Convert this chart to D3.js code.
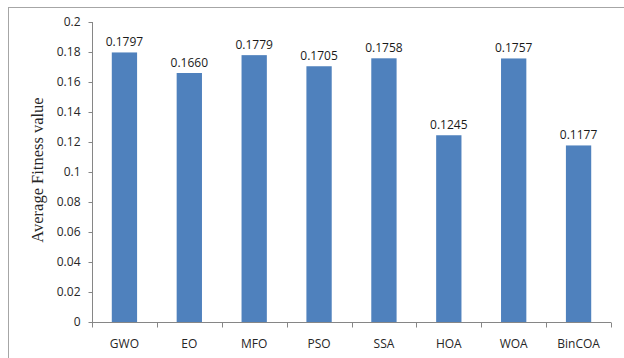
<!DOCTYPE html>
<html>
<head>
<meta charset="utf-8">
<script src="https://cdn.jsdelivr.net/npm/d3@7"></script>
<style>
  html, body { margin: 0; padding: 0; background: #fff; }
  svg { display: block; }
</style>
</head>
<body>
<svg id="chart" width="624" height="358"></svg>
<script>
// Algorithms compared and their average fitness values
const categories = ["GWO", "EO", "MFO", "PSO", "SSA", "HOA", "WOA", "BinCOA"];
const fitness = [0.1797, 0.1660, 0.1779, 0.1705, 0.1758, 0.1245, 0.1757, 0.1177];
const yTicks = [0, 0.02, 0.04, 0.06, 0.08, 0.1, 0.12, 0.14, 0.16, 0.18, 0.2];
const yTickLabels = ["0", "0.02", "0.04", "0.06", "0.08", "0.1", "0.12", "0.14", "0.16", "0.18", "0.2"];

const svg = d3.select("#chart");
const W = 624, H = 358;
const plot = { left: 92, right: 611, top: 22, bottom: 322 };

// Outer frame of the chart area
svg.append("rect")
  .attr("x", 8.5).attr("y", 7.5)
  .attr("width", W + 20).attr("height", H + 20)
  .attr("fill", "none").attr("stroke", "#a6a6a6").attr("stroke-width", 1);

const x = d3.scaleBand()
  .domain(categories)
  .range([plot.left, plot.right])
  .paddingInner(0.61)
  .paddingOuter(0.305);

const y = d3.scaleLinear().domain([0, 0.2]).range([plot.bottom, plot.top]);

// Y axis
const yAxis = svg.append("g")
  .attr("transform", `translate(${plot.left + 0.5},0)`)
  .call(d3.axisLeft(y).tickValues(yTicks).tickSize(4).tickPadding(8)
    .tickFormat((d, i) => yTickLabels[i]));
yAxis.select(".domain").attr("stroke", "#868686").attr("d", `M0,${plot.top}V${plot.bottom}`);
yAxis.selectAll(".tick line").attr("stroke", "#868686");
yAxis.selectAll(".tick text")
  .attr("font-family", "'Open Sans', 'Liberation Sans', sans-serif")
  .attr("font-size", 12).attr("fill", "#262626");

// X axis with ticks at category boundaries
const xAxisG = svg.append("g").attr("transform", `translate(0,${plot.bottom + 0.5})`);
xAxisG.append("line")
  .attr("x1", plot.left).attr("x2", plot.right)
  .attr("stroke", "#868686");
const bounds = d3.range(categories.length + 1).map(i => plot.left + i * (plot.right - plot.left) / categories.length);
xAxisG.selectAll("line.tk").data(bounds).join("line")
  .attr("class", "tk")
  .attr("x1", d => Math.round(d) + 0.5).attr("x2", d => Math.round(d) + 0.5)
  .attr("y1", 0).attr("y2", 5)
  .attr("stroke", "#868686");
xAxisG.selectAll("text").data(categories).join("text")
  .attr("x", d => x(d) + x.bandwidth() / 2)
  .attr("y", 25)
  .attr("text-anchor", "middle")
  .attr("font-family", "'Open Sans', 'Liberation Sans', sans-serif")
  .attr("font-size", 12).attr("fill", "#262626")
  .text(d => d);

// Bars
svg.append("g").selectAll("rect").data(categories).join("rect")
  .attr("x", d => x(d))
  .attr("y", (d, i) => y(fitness[i]))
  .attr("width", x.bandwidth())
  .attr("height", (d, i) => plot.bottom - y(fitness[i]))
  .attr("fill", "#4f81bd");

// Value labels
svg.append("g").selectAll("text").data(categories).join("text")
  .attr("x", d => x(d) + x.bandwidth() / 2)
  .attr("y", (d, i) => y(fitness[i]) - 6)
  .attr("text-anchor", "middle")
  .attr("font-family", "'Open Sans', 'Liberation Sans', sans-serif")
  .attr("font-size", 12).attr("fill", "#1a1a1a")
  .text((d, i) => fitness[i].toFixed(4));

// Y axis title
svg.append("text")
  .attr("transform", "translate(43,170) rotate(-90)")
  .attr("text-anchor", "middle")
  .attr("font-family", "'Liberation Serif', 'Times New Roman', serif")
  .attr("font-size", 16.5).attr("fill", "#262626")
  .text("Average Fitness value");
</script>
</body>
</html>
